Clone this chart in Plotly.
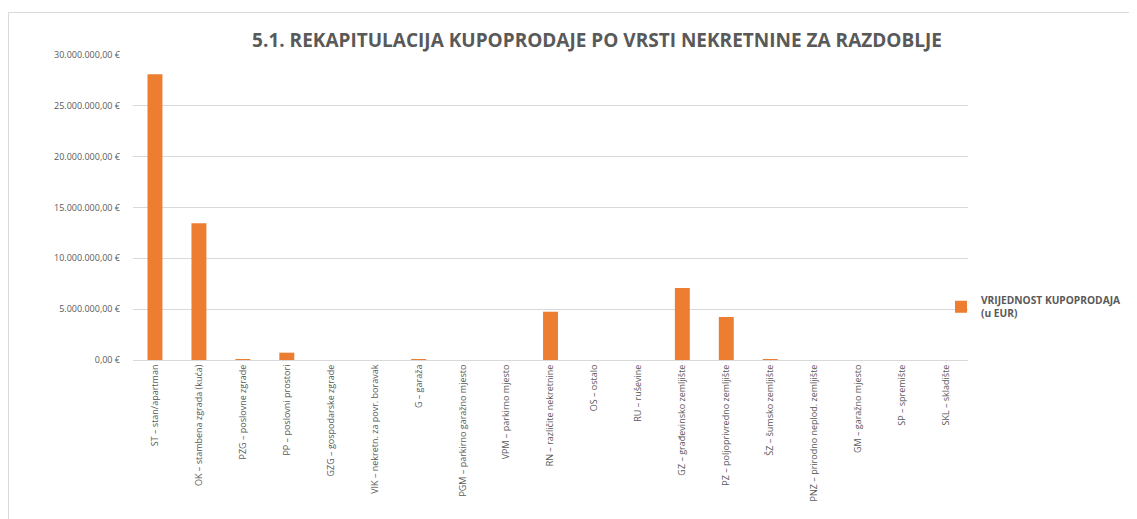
import plotly.graph_objects as go

categories = [
    "ST – stan/apartman",
    "OK – stambena zgrada (kuća)",
    "PZG – poslovne zgrade",
    "PP – poslovni prostori",
    "GZG – gospodarske zgrade",
    "VIK – nekretn. za povr. boravak",
    "G – garaža",
    "PGM – parkirno garažno mjesto",
    "VPM – parkirno mjesto",
    "RN – različite nekretnine",
    "OS – ostalo",
    "RU – ruševine",
    "GZ – građevinsko zemljište",
    "PZ – poljoprivredno zemljište",
    "ŠZ – šumsko zemljište",
    "PNZ – prirodno neplod. zemljište",
    "GM – garažno mjesto",
    "SP – spremište",
    "SKL – skladište",
]
values = [
    28100000, 13450000, 70000, 720000, 0, 0, 30000, 0, 0, 4750000,
    0, 0, 7080000, 4230000, 60000, 0, 0, 0, 0,
]

tick_vals = [0, 5000000, 10000000, 15000000, 20000000, 25000000, 30000000]
tick_text = ["0,00 €", "5.000.000,00 €", "10.000.000,00 €", "15.000.000,00 €",
             "20.000.000,00 €", "25.000.000,00 €", "30.000.000,00 €"]
series_name = "VRIJEDNOST KUPOPRODAJA<br>(u EUR)"
title_text = "5.1. REKAPITULACIJA KUPOPRODAJE PO VRSTI NEKRETNINE ZA RAZDOBLJE"

# page body adds an 8px offset; work in figure coords = screen - 8
OFF = 8
W, H = 1137 - OFF, 519 - OFF
L = 133 - OFF
T = 55 - OFF
plot_right = 968 - OFF
plot_bottom = 360 - OFF
R = W - plot_right
B = H - plot_bottom
pw, ph = W - L - R, H - T - B

fig = go.Figure()
fig.add_trace(go.Bar(
    x=categories, y=values, name=series_name,
    marker=dict(color="#ED7D31", line=dict(width=0)),
))

fig.update_layout(
    width=W, height=H,
    margin=dict(l=L, r=R, t=T, b=B, autoexpand=False),
    paper_bgcolor="white", plot_bgcolor="white",
    font=dict(family="Open Sans, Calibri, sans-serif", color="#595959", size=9),
    bargap=0.66,
    showlegend=True,
    title=dict(text="<b>" + title_text + "</b>", x=(597 - OFF) / W, xanchor="center",
               y=1 - (40 - OFF) / H, yanchor="middle",
               font=dict(size=19, color="#595959", family="Open Sans, sans-serif")),
    legend=dict(xref="container", yref="container",
                x=(941 - OFF) / W, y=1 - (307 - OFF) / H,
                xanchor="left", yanchor="middle",
                font=dict(size=10.2, color="#595959", weight="bold"),
                itemwidth=30, bgcolor="rgba(0,0,0,0)"),
    xaxis=dict(tickangle=-90, showgrid=False, showline=True, linecolor="#D9D9D9",
               linewidth=1, ticks="", tickfont=dict(size=9, color="#595959"),
               range=[-0.5, 18.5]),
    yaxis=dict(range=[0, 30000000], tickvals=tick_vals, ticktext=tick_text,
               showgrid=True, gridcolor="#D9D9D9", gridwidth=1, zeroline=False,
               showline=False, ticks="", ticklabelstandoff=12,
               tickfont=dict(size=9, color="#595959")),
    shapes=[dict(type="rect", xref="paper", yref="paper",
                 x0=(0.5 - L) / pw, x1=(W + 10 - L) / pw,
                 y0=(plot_bottom - H - 10) / ph, y1=(plot_bottom - 4.5) / ph,
                 line=dict(color="#D9D9D9", width=1), fillcolor="rgba(0,0,0,0)",
                 layer="below")],
)

fig.write_html("out.html")
